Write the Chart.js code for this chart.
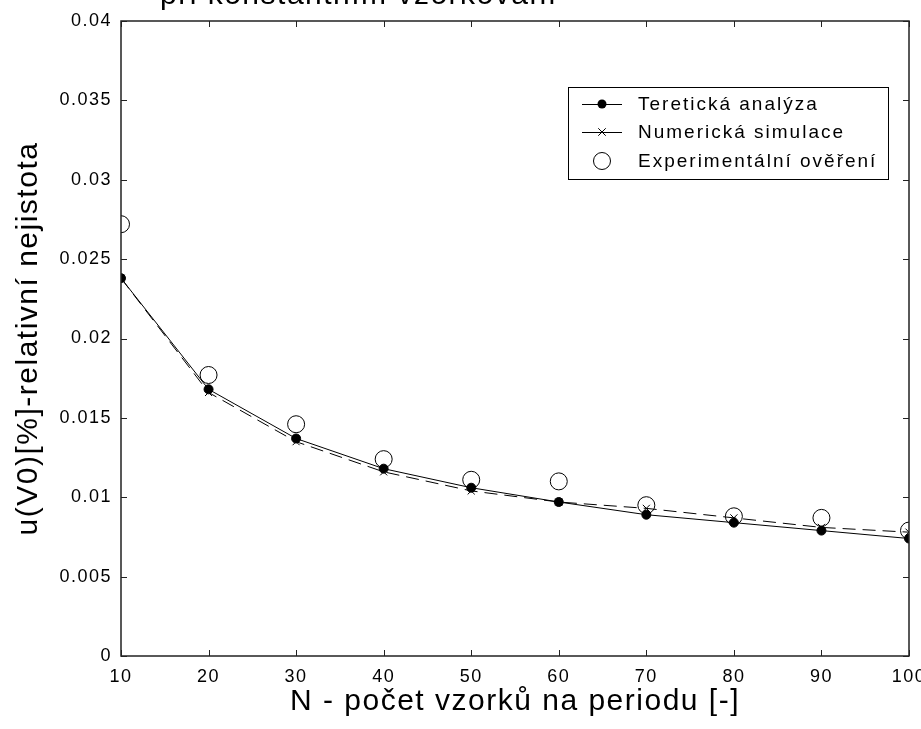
<!DOCTYPE html>
<html><head><meta charset="utf-8">
<script src="https://cdn.jsdelivr.net/npm/chart.js@4/dist/chart.umd.min.js"></script>
<style>html,body{margin:0;padding:0;background:#fff}</style>
</head><body>
<canvas id="c" width="921" height="729"></canvas>
<script>
const samplesN = [10, 20, 30, 40, 50, 60, 70, 80, 90, 100];
const theoretical = [0.0238, 0.0168, 0.0137, 0.0118, 0.0106, 0.0097, 0.0089, 0.0084, 0.0079, 0.0074];
const numerical = [0.0238, 0.0166, 0.0135, 0.0116, 0.0104, 0.0097, 0.0093, 0.0087, 0.0081, 0.0078];
const experimental = [0.0272, 0.0177, 0.0146, 0.0124, 0.0111, 0.0110, 0.0095, 0.0088, 0.0087, 0.0079];
const yTickValues = [0, 0.005, 0.01, 0.015, 0.02, 0.025, 0.03, 0.035, 0.04];
const yTickLabels = ['0', '0.005', '0.01', '0.015', '0.02', '0.025', '0.03', '0.035', '0.04'];
const seriesNames = ['Teretická analýza', 'Numerická simulace', 'Experimentální ověření'];
const chartTitle = 'při konstantním vzorkování';
const xTitle = 'N - počet vzorků na periodu [-]';
const yTitle = 'u(V0)[%]-relativní nejistota';

const FONT = '"Liberation Sans", Arial, sans-serif';
const toPts = arr => arr.map((v, i) => ({x: samplesN[i], y: v}));

const framePlugin = {
  id: 'frameTicks',
  beforeDraw(chart) {
    chart.ctx.letterSpacing = '1.5px';
  },
  afterDraw(chart) {
    const {ctx, chartArea: a, scales} = chart;
    ctx.save();
    ctx.letterSpacing = '0px';
    ctx.strokeStyle = '#222';
    ctx.lineWidth = 1.5;
    ctx.strokeRect(a.left, a.top, a.right - a.left, a.bottom - a.top);
    ctx.lineWidth = 1;
    const L = 6;
    ctx.beginPath();
    scales.x.ticks.forEach(t => {
      const px = Math.round(scales.x.getPixelForValue(t.value)) + 0.5;
      ctx.moveTo(px, a.bottom); ctx.lineTo(px, a.bottom - L);
      ctx.moveTo(px, a.top); ctx.lineTo(px, a.top + L);
    });
    scales.y.ticks.forEach(t => {
      const py = Math.round(scales.y.getPixelForValue(t.value)) + 0.5;
      ctx.moveTo(a.left, py); ctx.lineTo(a.left + L, py);
      ctx.moveTo(a.right, py); ctx.lineTo(a.right - L, py);
    });
    ctx.stroke();
    ctx.restore();
  }
};

const titlePlugin = {
  id: 'cutTitle',
  afterDraw(chart) {
    const ctx = chart.ctx;
    ctx.save();
    ctx.letterSpacing = '1.5px';
    ctx.font = '30px ' + FONT;
    ctx.fillStyle = '#000';
    ctx.textBaseline = 'alphabetic';
    ctx.textAlign = 'left';
    ctx.fillText(chartTitle, 160, 4);
    ctx.restore();
  }
};

const legendPlugin = {
  id: 'boxLegend',
  afterDraw(chart) {
    const ctx = chart.ctx;
    ctx.save();
    ctx.letterSpacing = '2px';
    ctx.fillStyle = '#fff';
    ctx.fillRect(568, 87, 320, 92);
    ctx.strokeStyle = '#000';
    ctx.lineWidth = 1;
    ctx.strokeRect(568.5, 87.5, 320, 92);
    const rows = [104, 132, 161];
    ctx.font = '19px ' + FONT;
    ctx.textBaseline = 'middle';
    ctx.fillStyle = '#000';
    chart.data.datasets.forEach((ds, i) => {
      const y = rows[i];
      const cx = 602;
      if (ds.showLine !== false) {
        ctx.beginPath();
        ctx.moveTo(582, y + 0.5); ctx.lineTo(622, y + 0.5);
        ctx.stroke();
      }
      if (i === 0) {
        ctx.beginPath(); ctx.arc(cx, y, ds.pointRadius, 0, Math.PI * 2); ctx.fill();
      } else if (i === 1) {
        const r = ds.pointRadius * 0.75;
        ctx.beginPath();
        ctx.moveTo(cx - r, y - r); ctx.lineTo(cx + r, y + r);
        ctx.moveTo(cx - r, y + r); ctx.lineTo(cx + r, y - r);
        ctx.stroke();
      } else {
        ctx.beginPath(); ctx.arc(cx, y, ds.pointRadius, 0, Math.PI * 2);
        ctx.stroke();
      }
      ctx.fillText(ds.label, 638, y + 1);
    });
    ctx.restore();
  }
};

new Chart(document.getElementById('c'), {
  type: 'scatter',
  data: {
    datasets: [
      {label: seriesNames[0], data: toPts(theoretical), showLine: true, borderColor: '#000', borderWidth: 1,
       pointStyle: 'circle', pointRadius: 4.5, pointBackgroundColor: '#000', pointBorderColor: '#000', order: 2},
      {label: seriesNames[1], data: toPts(numerical), showLine: true, borderColor: '#000', borderWidth: 1,
       borderDash: [13, 7], pointStyle: 'crossRot', pointRadius: 5, pointBorderColor: '#000', pointBorderWidth: 1, order: 3},
      {label: seriesNames[2], data: toPts(experimental), showLine: false, pointStyle: 'circle', pointRadius: 8.5,
       pointBackgroundColor: 'rgba(255,255,255,0)', pointBorderColor: '#000', pointBorderWidth: 1, order: 1}
    ]
  },
  options: {
    responsive: false,
    animation: false,
    devicePixelRatio: 1,
    layout: {padding: {top: 21, right: 12, left: 0, bottom: 0}},
    plugins: {legend: {display: false}, tooltip: {enabled: false}, title: {display: false}},
    scales: {
      x: {
        type: 'linear', min: 10, max: 100,
        grid: {display: false, drawTicks: false},
        border: {display: false},
        ticks: {stepSize: 10, padding: 10, color: '#000', font: {family: FONT, size: 18}, maxRotation: 0, autoSkip: false},
        title: {display: true, text: xTitle, color: '#000', font: {family: FONT, size: 30}, padding: {top: 0, bottom: 9}},
        afterFit(s) { s.height = 73; s.paddingLeft = 0; s.paddingRight = 0; }
      },
      y: {
        type: 'linear', min: 0, max: 0.04,
        grid: {display: false, drawTicks: false},
        border: {display: false},
        afterBuildTicks(s) { s.ticks = yTickValues.map(v => ({value: v})); },
        ticks: {padding: 9, color: '#000', font: {family: FONT, size: 18},
          callback: (v) => { const i = yTickValues.findIndex(t => Math.abs(t - v) < 1e-9); return i >= 0 ? yTickLabels[i] : ''; }},
        title: {display: true, text: yTitle, color: '#000', font: {family: FONT, size: 30}, padding: {top: 11, bottom: 0}},
        afterFit(s) { s.width = 121; s.paddingTop = 0; s.paddingBottom = 0; }
      }
    }
  },
  plugins: [framePlugin, titlePlugin, legendPlugin]
});
</script>
</body></html>
